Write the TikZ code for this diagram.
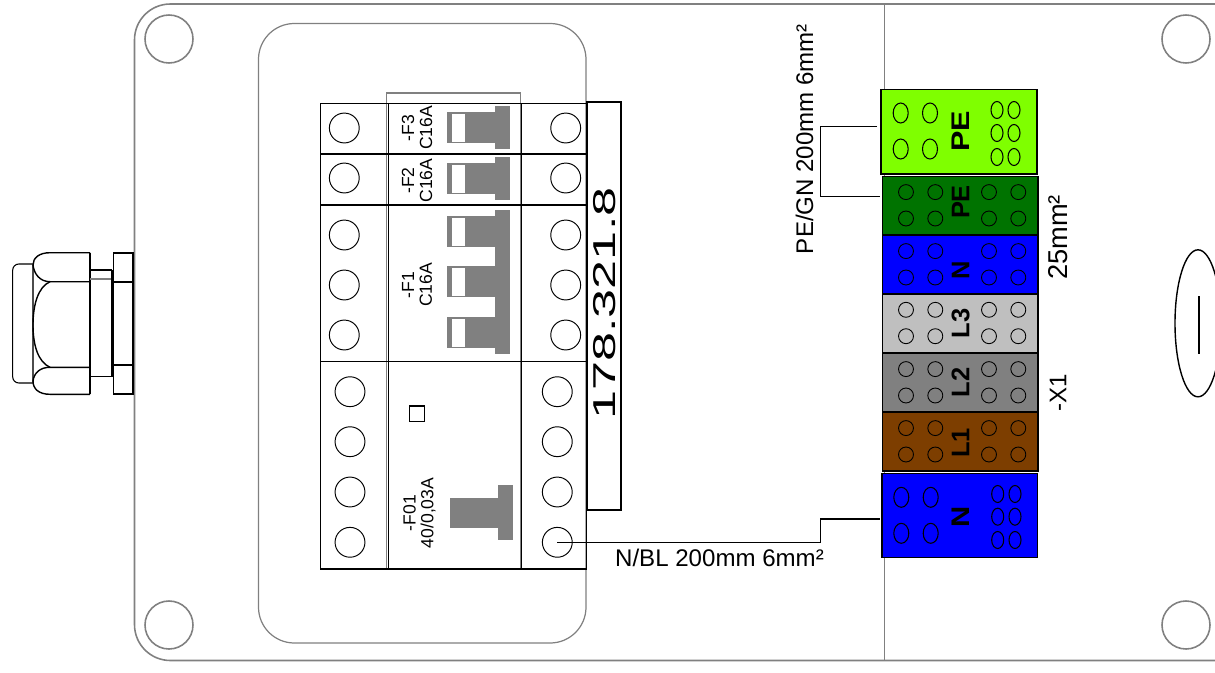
\documentclass[tikz,border=0pt]{standalone}
\usepackage{fontspec}
\setmainfont{Liberation Sans}
\definecolor{pegreen}{RGB}{127,255,0}
\definecolor{darkpe}{RGB}{0,115,0}
\definecolor{brownlone}{RGB}{125,62,0}
\tikzset{
    every node/.style={inner sep=0pt,outer sep=0pt},
    wire/.style={line width=0.8pt},
    pen/.style={draw=black,line width=0.6pt},
    hull/.style={draw=black!50,line width=0.9pt},
    devtext/.style={rotate=90,align=center,font=\fontsize{10}{10.2}\selectfont},
    wiretext/.style={font=\fontsize{13.7}{13.7}\selectfont},
    tagtext/.style={rotate=90,font=\bfseries\fontsize{14.5}{14.5}\selectfont},
    hole/.style={circle,draw=black,line width=0.55pt,minimum size=17pt},
    lughole/.style={circle,draw=black,line width=0.5pt,minimum size=8.5pt},
    block/.style={draw=black,line width=0.9pt,anchor=north west,minimum width=88.6pt,minimum height=33.4pt},
    bigblock/.style={draw=black,line width=0.9pt,anchor=north west,minimum width=88.6pt,minimum height=48pt}
}
\newcommand{\polebar}[1]{%
    \fill[black!50](447,#1)rectangle(495,#1+31);
    \fill[white](451.5,#1+2)rectangle(465,#1+29.5);
}
\begin{document}
\begin{tikzpicture}[x=0.02cm,y=-0.02cm]
    \useasboundingbox(0,0)rectangle(1215,673);

    \draw[hull,rounded corners=20.4pt](1223,4)--(134.5,4)--(134.5,660.5)--(1223,660.5);
    \draw[hull](884.5,4)--(884.5,660.5);
    \draw[hull,line width=0.7pt,rounded corners=20.4pt](420,23.5)--(258.5,23.5)--(258.5,643)--(586,643)--(586,23.5)--cycle;
    \foreach \sx/\sy in {169/39,169/625,1186/39,1186/625}{
        \draw[hull](\sx,\sy)circle(24);
    }

    \draw[wire](1198,323.3)circle[x radius=23,y radius=73.5];
    \draw[line width=1.2pt](1199,296)--(1199,354);

    \draw[pen,rounded corners=3.5pt](33,264)--(12.7,264)--(12.7,383)--(33,383);
    \draw[pen,draw=black!70](33,264)--(33,383);
    \draw[wire](90,252.7)--(50,252.7)..controls(39,252.7)and(33,258)..(33,265)..controls(34,274)and(40,281.7)..(50,281.7)--(90,281.7);
    \draw[wire](90,394.3)--(50,394.3)..controls(39,394.3)and(33,389)..(33,381)..controls(34,373)and(40,367.3)..(50,367.3)--(90,367.3);
    \draw[wire](50,281.7)..controls(38,287)and(33,305)..(33,325)..controls(33,345)and(38,362)..(50,367.3);
    \draw[wire](90,252.7)--(90,394.3);
    \draw[pen](90,270)--(112,270);
    \draw[pen](90,376.7)--(112,376.7);
    \draw[pen,draw=black!50](90,279)--(112,279);
    \draw[line width=1.2pt](112,270)--(112,376.7);
    \draw[line width=1pt](113.6,252.7)rectangle(132.7,394.3);
    \draw[line width=1pt](113.6,281.7)--(132.7,281.7);
    \draw[line width=1pt](113.6,365)--(132.7,365);

    \draw[hull](386.7,103)--(386.7,93)--(520.3,93)--(520.3,103);
    \draw[hull](386.7,103)--(386.7,569);
    \draw[hull](520.3,103)--(520.3,569);

    \draw[pen](320.7,103.3)rectangle(586.7,569);
    \draw[pen,line width=1.3pt](320.7,154.3)--(586.7,154.3);
    \draw[pen](320.7,205)--(586.7,205);
    \draw[pen,line width=0.75pt](320.7,361.7)--(586.7,361.7);
    \draw[pen,line width=0.9pt](388.3,103.3)--(388.3,569);
    \draw[pen,line width=0.9pt](521.5,103.3)--(521.5,569);

    \foreach \ty/\tn in {128/a,178/b,235/c,285/d,335/e}{
        \node[hole](left\tn) at (344.3,\ty){};
        \node[hole](right\tn) at (565.7,\ty){};
    }
    \foreach \ty/\tn in {391.7/f,441.7/g,492/h,542.3/i}{
        \node[hole](left\tn) at (350,\ty){};
        \node[hole](right\tn) at (557.3,\ty){};
    }

    \fill[black!50](495,106)rectangle(510,149);
    \polebar{112}
    \fill[black!50](495,157)rectangle(510,200);
    \polebar{163}
    \fill[black!50](495,210)rectangle(510,354);
    \polebar{216}
    \polebar{266}
    \polebar{317}
    \fill[black!50](498,485)rectangle(513,539.7);
    \fill[black!50](450,497.7)rectangle(498,528.3);
    \draw[pen](409.5,406)rectangle(424.7,421.7);

    \node[devtext](ffthree) at (417,128){-F3\\C16A};
    \node[devtext](fftwo) at (417,180.5){-F2\\C16A};
    \node[devtext](ffone) at (417,285){-F1\\C16A};
    \node[devtext](ffzero) at (419.5,513){-F01\\40/0,03A};

    \draw[pen,line width=1pt](587.3,101.7)rectangle(620.7,510);
    \node[rotate=90,font=\fontsize{18}{18}\selectfont](stripnum) at (604.5,303.5){\scalebox{1.65}[1]{178.321.8}};

    \node[bigblock,fill=pegreen,xshift=-0.6pt](blockbigpe) at (882.3,89.7){};
    \foreach \bn/\by/\bcol in {pe/176.3/darkpe,n/235.3/blue,lthree/294/black!25,ltwo/353.3/black!50,lone/412.3/brownlone}{
        \node[block,fill=\bcol](block\bn) at (882.3,\by){};
        \foreach \lx in {906,935.3,989,1018.3}{
            \node[lughole] at (\lx,\by+15.8){};
            \node[lughole] at (\lx,\by+42.2){};
        }
    }
    \node[bigblock,fill=blue](blockbign) at (882,473.3){};

    \foreach \ex/\ey in {900.7/113,930/113,900.7/149,930/149,901.3/497.3,930.7/497.3,901.3/533.3,930.7/533.3}{
        \draw[pen](\ex,\ey)circle[x radius=7.5,y radius=10];
    }
    \foreach \ex in {997,1014}{
        \foreach \ey in {110,133,157}{
            \draw[pen](\ex,\ey)circle[x radius=6,y radius=8.5];
        }
    }
    \foreach \ex in {997.7,1015}{
        \foreach \ey in {494,516.7,540}{
            \draw[pen](\ex,\ey)circle[x radius=6,y radius=8.5];
        }
    }

    \node[tagtext](tagbigpe) at (960.5,131){\scalebox{1.2}[1]{PE}};
    \node[tagtext](tagpe) at (960.5,202){PE};
    \node[tagtext](tagn) at (960.5,270){N};
    \node[tagtext](taglthree) at (960.5,323.6){L3};
    \node[tagtext](tagltwo) at (960.5,382.5){L2};
    \node[tagtext](taglone) at (960.5,442.7){L1};
    \node[tagtext](tagbign) at (960.5,516.7){\scalebox{1.15}[1]{N}};

    \coordinate(pewirea) at (877,126.7);
    \coordinate(pewireb) at (880,196.7);
    \coordinate(nwire) at (880,519);
    \draw[wire](pewirea)--(820.7,126.7)--(820.7,196.7)--(pewireb);
    \draw[wire](righti.center)--(820.7,542.3)--(820.7,519)--(nwire);

    \node[wiretext,rotate=90](pelabel) at (804.5,139){PE/GN 200mm 6mm²};
    \node[wiretext](nlabel) at (719.5,558){N/BL 200mm 6mm²};
    \node[rotate=90,font=\fontsize{15.5}{15.5}\selectfont](crosslabel) at (1058,237.5){25mm²};
    \node[rotate=90,font=\fontsize{13.7}{13.7}\selectfont](xlabel) at (1058,393){-X1};
\end{tikzpicture}
\end{document}
